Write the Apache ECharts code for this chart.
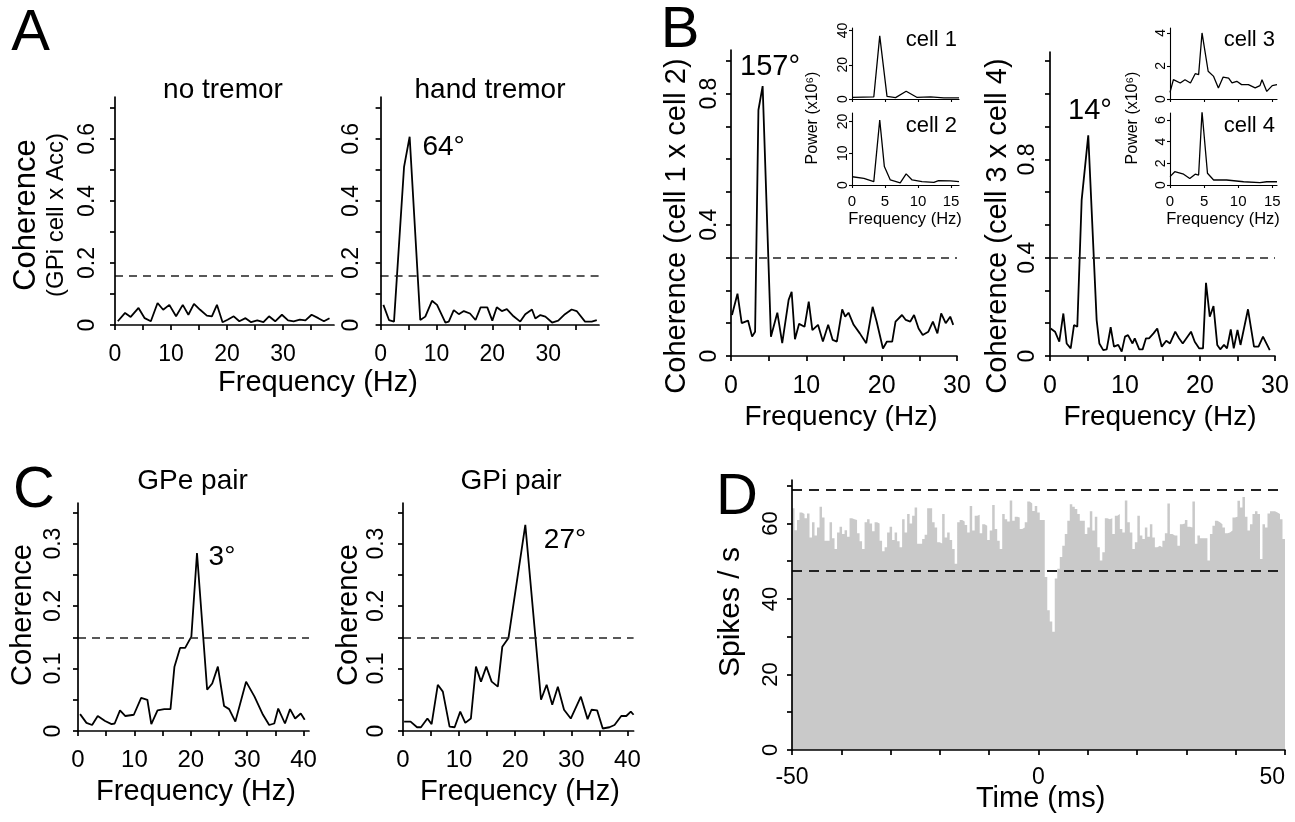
<!DOCTYPE html>
<html><head><meta charset="utf-8">
<script src="https://cdn.jsdelivr.net/npm/echarts@6/dist/echarts.min.js"></script>
<style>html,body{margin:0;padding:0;background:#fff}#c{width:1295px;height:822px}</style>
</head><body><div id="c"></div>
<script>
// ---------- DATA ----------
// Panel A: coherence GPi cell x accelerometer
const aNoFreq = [0.5,1.8,2.8,4.2,5.3,6.4,7.6,8.6,9.7,10.9,12.1,13.1,14.1,15.2,16.4,17.3,18.2,19.2,20.1,21.2,22.2,23.3,24.3,25.4,26.5,27.5,28.6,29.8,30.9,31.9,33.0,34.0,35.1,36.3,37.3,38.3];
const aNoCoh  = [0.012,0.039,0.026,0.055,0.022,0.012,0.071,0.049,0.065,0.028,0.065,0.033,0.068,0.049,0.03,0.028,0.065,0.009,0.017,0.028,0.012,0.022,0.009,0.015,0.009,0.028,0.012,0.033,0.015,0.012,0.017,0.015,0.033,0.022,0.012,0.022];
const aTrFreq = [0.5,1.5,2.4,4.2,5.2,7.1,8.0,9.2,10.1,11.6,12.2,13.1,14.0,14.9,16.0,17.0,17.9,19.1,20.0,20.8,21.7,22.6,23.8,25.0,25.9,27.1,27.7,28.6,29.5,30.7,31.8,33.0,34.2,35.1,36.6,37.8,38.7];
const aTrCoh  = [0.065,0.016,0.011,0.51,0.607,0.016,0.027,0.078,0.065,0.008,0.011,0.048,0.035,0.045,0.037,0.016,0.057,0.057,0.014,0.057,0.045,0.051,0.028,0.011,0.035,0.05,0.021,0.032,0.027,0.008,0.014,0.035,0.05,0.045,0.011,0.011,0.016];
const aThresh = 0.157;
// Panel B: cell-cell coherence
const bLFreq = [0.13,0.86,1.42,2.26,2.8,3.2,3.64,4.2,5.3,6.15,6.8,7.65,8.05,8.49,9.04,9.76,10.32,10.8,11.55,12.2,12.9,13.5,14.05,14.76,15.16,15.6,16.28,17.1,17.95,18.8,19.33,20.17,20.7,21.4,21.84,22.7,23.2,23.8,24.3,24.9,25.45,26.2,26.8,27.4,27.9,28.5,29.1,29.5];
const bLCoh  = [0.125,0.19,0.10,0.108,0.059,0.074,0.75,0.823,0.059,0.132,0.039,0.171,0.196,0.051,0.098,0.089,0.166,0.079,0.095,0.044,0.095,0.049,0.044,0.142,0.12,0.132,0.095,0.069,0.039,0.15,0.105,0.023,0.044,0.044,0.105,0.125,0.11,0.105,0.125,0.084,0.064,0.074,0.105,0.069,0.13,0.1,0.12,0.095];
const bRFreq = [0.09,0.67,1.24,1.78,2.22,2.76,3.2,3.64,4.22,5.1,6.22,6.58,7.1,7.56,8.09,8.53,9.1,9.56,10.0,10.4,11.0,11.3,11.9,12.35,12.8,13.2,13.8,14.3,14.9,15.5,16.0,16.7,17.2,17.7,18.8,19.3,19.9,20.4,20.8,21.3,21.8,22.3,22.7,23.2,23.6,24.1,24.5,25.0,25.4,26.4,27.2,27.8,28.4,29.3];
const bRCoh  = [0.112,0.099,0.058,0.173,0.051,0.031,0.126,0.119,0.634,0.898,0.146,0.051,0.024,0.027,0.117,0.038,0.045,0.018,0.079,0.085,0.051,0.072,0.027,0.027,0.072,0.072,0.092,0.112,0.038,0.062,0.051,0.099,0.072,0.051,0.099,0.058,0.031,0.031,0.298,0.16,0.203,0.045,0.027,0.045,0.031,0.108,0.031,0.106,0.045,0.19,0.038,0.038,0.079,0.024];
const bThreshL = 0.30, bThreshR = 0.40;
// Panel B insets: power spectra
const c1Freq = [0.05,3.3,4.2,5.3,6.6,8.2,9.8,11.9,13.9,16.2];
const c1Pow  = [1.0,1.2,36.9,1.5,0.8,4.5,1.0,1.2,0.6,0.6];
const c2Freq = [0.05,1.8,3.3,4.2,4.9,5.8,7.3,8.2,9.1,10.6,12.4,13.1,14.9,16.2];
const c2Pow  = [2.6,2.1,1.05,20.5,5.8,1.6,0.7,3.5,1.6,1.05,0.8,1.4,1.3,1.05];
const c3Freq = [0,0.5,1.5,2.2,3.0,3.7,4.2,4.7,5.6,6.4,7.1,7.8,8.6,9.1,9.8,10.5,11.5,12.5,13.2,13.5,14.2,15.0,15.7];
const c3Pow  = [0.4,1.17,0.97,1.17,0.97,1.53,1.47,4.0,1.68,1.37,0.67,1.33,1.27,0.97,1.07,0.87,0.87,0.67,0.81,1.17,0.46,0.81,0.87];
const c4Freq = [0,0.7,2.0,2.9,3.7,4.2,4.7,5.5,6.4,8.3,10.8,13.2,14.2,15.7];
const c4Pow  = [0.77,1.23,1.0,0.6,1.0,0.92,6.77,1.08,0.46,0.46,0.3,0.22,0.3,0.3];
// Panel C: pair coherence
const cLFreq = [0.37,1.5,2.5,3.5,4.8,5.95,6.5,7.45,8.4,9.9,11.2,12.3,13.0,14.1,15.3,16.4,17.1,18.1,19.0,20.1,21.1,22.9,23.8,24.8,25.9,26.8,27.9,29.8,31.3,32.8,33.9,34.8,35.5,36.7,37.6,38.5,39.5,40.2];
const cLCoh  = [0.027,0.013,0.0096,0.024,0.016,0.011,0.012,0.033,0.024,0.026,0.053,0.05,0.011,0.033,0.035,0.035,0.103,0.133,0.133,0.151,0.285,0.066,0.076,0.103,0.04,0.035,0.015,0.079,0.055,0.026,0.0096,0.012,0.036,0.012,0.035,0.02,0.028,0.018];
const cRFreq = [0.2,1.35,2.5,3.2,4.35,5.1,6.2,7.1,8.3,9.2,10.2,11.1,12.1,13.0,13.9,14.85,15.8,16.9,17.7,18.8,21.8,24.6,25.6,26.6,27.6,28.7,29.9,31.7,32.9,33.6,34.6,35.6,36.8,37.7,38.9,39.8,40.6,41.1];
const cRCoh  = [0.015,0.015,0.006,0.006,0.02,0.011,0.074,0.063,0.007,0.006,0.031,0.013,0.02,0.103,0.079,0.103,0.079,0.071,0.135,0.149,0.33,0.05,0.074,0.042,0.071,0.034,0.02,0.055,0.019,0.034,0.033,0.004,0.006,0.0096,0.024,0.024,0.031,0.026];
const cThresh = 0.152;
// Panel D: cross-correlogram (spikes/s per bin, -50..50 ms)
const dRate = [64.0,58.2,60.9,62.9,62.5,61.4,62.6,56.3,60.3,56.8,58.9,64.4,61.6,55.4,55.4,60.3,56.1,53.2,57.6,59.1,57.2,58.2,56.5,61.4,61.1,60.9,57.4,55.3,53.2,60.3,61.1,60.0,57.9,60.3,60.0,55.4,52.6,53.7,57.6,59.1,55.6,57.6,55.3,53.7,61.1,57.6,62.5,60.0,
62.0,64.2,54.6,54.6,55.9,57.0,64.0,64.0,60.3,58.9,55.0,54.7,62.5,56.3,57.6,55.6,53.2,49.3,60.3,60.9,60.5,59.6,57.6,64.6,58.1,62.0,62.3,57.4,59.8,59.4,55.6,58.1,64.9,58.5,55.4,53.2,62.5,61.1,60.5,66.1,60.7,61.8,61.6,58.5,58.9,60.3,65.8,65.3,63.3,
64.6,62.9,60.9,60.9,45.8,37.0,34.0,31.3,45.4,48.0,51.1,54.1,57.2,60.7,65.1,64.4,63.8,62.5,60.7,60.7,57.2,58.9,63.2,58.1,61.8,53.7,50.2,52.4,61.4,61.1,61.4,57.2,62.0,62.5,58.5,57.6,66.1,60.3,57.6,53.2,55.0,62.0,56.8,55.9,58.9,56.5,59.8,56.3,53.7,
54.1,53.7,55.4,57.4,65.3,57.2,56.8,56.8,54.1,59.8,60.0,60.9,59.1,58.9,65.8,54.6,56.8,56.1,56.1,56.1,50.2,57.2,59.4,60.7,60.3,59.8,58.9,57.4,57.6,58.1,61.6,61.8,66.0,64.2,67.0,61.8,58.1,59.8,62.5,63.2,62.5,50.6,59.8,58.9,62.6,63.2,63.2,62.9,62.5,61.1,55.9];
const dStart = -50, dEnd = 50;
const dUpper = 69, dLower = 47.5;
// Tick values
const ticksA_x = [0,5,10,15,20,25,30,35], labA_x = [0,10,20,30];
const ticksA_y = [0,0.1,0.2,0.3,0.4,0.5,0.6,0.7], labA_y = [0,0.2,0.4,0.6];
const ticksB_x = [0,5,10,15,20,25,30], labB_x = [0,10,20,30];
const ticksBL_y = [0,0.1,0.2,0.3,0.4,0.5,0.6,0.7,0.8,0.9], labB_y = [0,0.4,0.8];
const ticksBR_y = [0,0.1333,0.2667,0.4,0.5333,0.6667,0.8,0.9333,1.0667,1.2];
const ticksI_x = [0,5,10,15];
const lab1_y = [0,20,40], lab2_y = [0,10,20], lab3_y = [0,2,4], lab4_y = [0,2,4,6];
const ticksC_x = [0,5,10,15,20,25,30,35,40], labC_x = [0,10,20,30,40];
const ticksC_y = [0,0.05,0.1,0.15,0.2,0.25,0.3,0.35], labC_y = [0,0.1,0.2,0.3];
const ticksD_x = [-50,-40,-30,-20,-10,0,10,20,30,40,50], labD_x = [-50,0,50];
const ticksD_y = [0,10,20,30,40,50,60,70], labD_y = [0,20,40,60];

// ---------- BUILD ----------
const FONT = '"Liberation Sans", Arial, Helvetica, sans-serif';
const fmt = v => String(Math.round(v * 1000) / 1000);
const pair = (fx, vy) => fx.map((f, i) => [f, vy[i]]);

const grids = [
  {left:115, top:97, width:219, height:228},      // 0 A left
  {left:380.6, top:97, width:218.4, height:228},  // 1 A right
  {left:731, top:50, width:226, height:306},      // 2 B left
  {left:1050, top:52, width:225, height:304},     // 3 B right
  {left:852, top:28, width:107, height:71},       // 4 cell 1
  {left:852, top:113, width:107, height:72},      // 5 cell 2
  {left:1170, top:28, width:107, height:71},      // 6 cell 3
  {left:1170, top:113, width:107, height:72},     // 7 cell 4
  {left:78, top:503, width:231, height:228},      // 8 C left
  {left:403, top:503, width:230.6, height:228},   // 9 C right
  {left:792, top:480, width:493, height:270}      // 10 D
].map(g => Object.assign({containLabel:false, outerBoundsMode:'none'}, g));

function ax(kind, gi, min, max, ticks, labels, o) {
  o = o || {};
  const lw = o.lw || 1.7;
  const a = {type:'value', gridIndex:gi, min:min, max:max, z:5,
    axisLine:{show:true, onZero:false, lineStyle:{color:'#000', width:lw}},
    axisTick:{show:true, inside:false, length:o.tl || 5, customValues:ticks, lineStyle:{color:'#000', width:lw}},
    axisLabel:{show:labels.length > 0, customValues:labels, margin:o.m || 8, fontSize:o.fs || 23,
      fontFamily:FONT, color:'#000', formatter:fmt},
    splitLine:{show:false}, axisPointer:{show:false}};
  if (kind === 'y') a.axisLabel.rotate = 90;
  if (o.alignMax) a.axisLabel.alignMaxLabel = o.alignMax;
  return a;
}

const xAxes = [
  ax('x',0,0,39.1,ticksA_x,labA_x,{m:18,fs:23}),
  ax('x',1,0,39.1,ticksA_x,labA_x,{m:18,fs:23}),
  ax('x',2,0,30,ticksB_x,labB_x,{m:18,fs:25}),
  ax('x',3,0,30,ticksB_x,labB_x,{m:18,fs:25}),
  ax('x',4,0,16.2,ticksI_x,[],{lw:1.1,tl:3}),
  ax('x',5,0,16.2,ticksI_x,ticksI_x,{lw:1.1,tl:3,m:9,fs:15}),
  ax('x',6,0,15.7,ticksI_x,[],{lw:1.1,tl:3}),
  ax('x',7,0,15.7,ticksI_x,ticksI_x,{lw:1.1,tl:3,m:9,fs:15}),
  ax('x',8,0,40.96,ticksC_x,labC_x,{m:17,fs:24}),
  ax('x',9,0,41.1,ticksC_x,labC_x,{m:17,fs:24}),
  ax('x',10,dStart,dEnd,ticksD_x,labD_x,{m:16,fs:23,alignMax:'right'})
];
const yAxes = [
  ax('y',0,0,0.735,ticksA_y,labA_y,{m:16,fs:23}),
  ax('y',1,0,0.735,ticksA_y,labA_y,{m:17,fs:23}),
  ax('y',2,0,0.933,ticksBL_y,labB_y,{m:10,fs:23}),
  ax('y',3,0,1.237,ticksBR_y,labB_y,{m:11,fs:23}),
  ax('y',4,0,41.5,lab1_y,lab1_y,{lw:1.1,tl:3,m:2,fs:14}),
  ax('y',5,0,22.7,lab2_y,lab2_y,{lw:1.1,tl:3,m:2,fs:14}),
  ax('y',6,0,4.3,lab3_y,lab3_y,{lw:1.1,tl:3,m:2,fs:14}),
  ax('y',7,0,6.65,lab4_y,lab4_y,{lw:1.1,tl:3,m:2,fs:14}),
  ax('y',8,0,0.365,ticksC_y,labC_y,{m:13,fs:23}),
  ax('y',9,0,0.365,ticksC_y,labC_y,{m:15,fs:23}),
  ax('y',10,0,71.5,ticksD_y,labD_y,{m:10,fs:22})
];

function dashed(vals, pattern, w) {
  return {symbol:'none', silent:true, animation:false, label:{show:false},
    lineStyle:{type:pattern, color:'#222', width:w},
    data: vals.map(v => ({yAxis:v}))};
}
function ln(gi, fx, vy, thresh, w) {
  const s = {type:'line', xAxisIndex:gi, yAxisIndex:gi, data:pair(fx, vy), symbol:'none',
    silent:true, animation:false, lineStyle:{color:'#000', width:w || 1.8}, z:3};
  if (thresh != null) s.markLine = dashed([thresh], [8,6], 1.6);
  return s;
}

const dW = (dEnd - dStart) / dRate.length;
const dPts = dRate.map((v, i) => [dStart + i * dW, v]);
dPts.push([dEnd, dRate[dRate.length - 1]]);

const series = [
  ln(0, aNoFreq, aNoCoh, aThresh),
  ln(1, aTrFreq, aTrCoh, aThresh),
  ln(2, bLFreq, bLCoh, bThreshL),
  ln(3, bRFreq, bRCoh, bThreshR),
  ln(4, c1Freq, c1Pow, null, 1.3),
  ln(5, c2Freq, c2Pow, null, 1.3),
  ln(6, c3Freq, c3Pow, null, 1.3),
  ln(7, c4Freq, c4Pow, null, 1.3),
  ln(8, cLFreq, cLCoh, cThresh),
  ln(9, cRFreq, cRCoh, cThresh),
  {type:'line', xAxisIndex:10, yAxisIndex:10, data:dPts, step:'end', symbol:'none', silent:true,
   animation:false, lineStyle:{width:0, color:'#c9c9c9'}, areaStyle:{color:'#c9c9c9', opacity:1}, z:2,
   markLine: dashed([dUpper, dLower], [10,7], 2)}
];

function T(text, x, y, size, o) {
  o = o || {};
  const align = o.align || 'center';
  return {type:'text', x:x, y:y, rotation:o.rot ? Math.PI / 2 : 0, silent:true, z:10,
    style:{text:text, fontSize:size, fontFamily:FONT, fill:'#000',
      align:align, verticalAlign:'middle', textAlign:align, textVerticalAlign:'middle'}};
}

const graphic = [
  T('A', 30.6, 33.5, 58), T('B', 680, 31, 58), T('C', 34, 491, 58), T('D', 737, 497.5, 58),
  T('no tremor', 223, 90, 28), T('hand tremor', 490, 90, 28), T('64°', 443.6, 147, 28),
  T('Coherence', 26, 215, 31, {rot:true}), T('(GPi cell x Acc)', 56, 215, 24, {rot:true}),
  T('Frequency (Hz)', 318, 383, 29),
  T('157°', 770, 67, 29), T('14°', 1090, 111, 29),
  T('Coherence (cell 1 x cell 2)', 677, 226, 29, {rot:true}),
  T('Coherence (cell 3 x cell 4)', 998, 226, 29, {rot:true}),
  T('Frequency (Hz)', 841, 417, 28), T('Frequency (Hz)', 1160, 417, 28),
  T('cell 1', 957, 40, 22, {align:'right'}), T('cell 2', 957, 126, 22, {align:'right'}),
  T('cell 3', 1275, 40, 22, {align:'right'}), T('cell 4', 1275, 126, 22, {align:'right'}),
  T('Power (x10⁶)', 813, 118, 16, {rot:true}), T('Power (x10⁶)', 1133, 118, 16, {rot:true}),
  T('Frequency (Hz)', 905, 219, 16.5), T('Frequency (Hz)', 1223, 219, 16.5),
  T('GPe pair', 192.5, 481, 28), T('GPi pair', 511, 481, 28),
  T('3°', 222, 557, 28), T('27°', 565, 540, 28),
  T('Coherence', 23, 615, 29, {rot:true}), T('Coherence', 349, 615, 29, {rot:true}),
  T('Frequency (Hz)', 196, 792, 29), T('Frequency (Hz)', 520, 792, 29),
  T('Spikes / s', 731, 612, 30, {rot:true}), T('Time (ms)', 1040.6, 799, 29)
];

const chart = echarts.init(document.getElementById('c'), null, {renderer:'canvas'});
chart.setOption({
  animation:false, backgroundColor:'#fff',
  textStyle:{fontFamily:FONT},
  grid:grids, xAxis:xAxes, yAxis:yAxes, series:series, graphic:graphic
});
</script></body></html>
